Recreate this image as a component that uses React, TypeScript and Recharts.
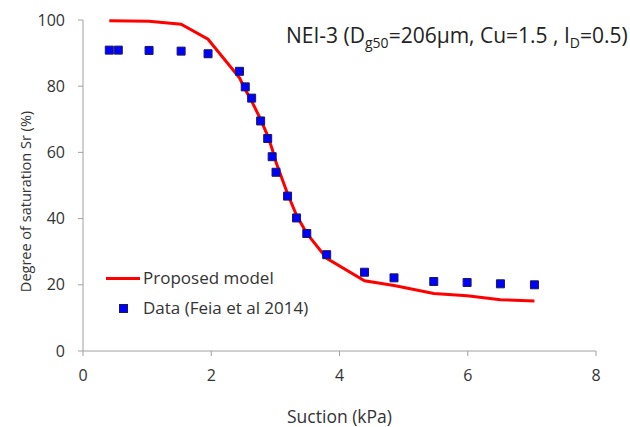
import React from "react";
import {
  ComposedChart,
  Line,
  Scatter,
  XAxis,
  YAxis,
} from "recharts";

// measured data (Feia et al 2014)
const dataSuction = [0.41, 0.55, 1.03, 1.53, 1.95, 2.44, 2.53, 2.63, 2.77, 2.88, 2.95, 3.01, 3.19, 3.33, 3.49, 3.8, 4.39, 4.85, 5.47, 5.99, 6.51, 7.04];
const dataSr = [90.9, 90.9, 90.8, 90.6, 89.8, 84.5, 79.8, 76.4, 69.5, 64.2, 58.7, 54.0, 46.8, 40.2, 35.5, 29.1, 23.8, 22.1, 21.0, 20.7, 20.3, 20.0];

// proposed model
const modelSuction = [0.41, 1.03, 1.53, 1.95, 2.44, 2.53, 2.63, 2.77, 2.88, 2.95, 3.01, 3.19, 3.33, 3.49, 3.8, 4.39, 4.85, 5.47, 5.99, 6.51, 7.04];
const modelSr = [99.8, 99.6, 98.7, 94.2, 82.5, 79.0, 75.5, 70.0, 65.0, 61.0, 57.0, 47.5, 41.0, 35.5, 28.0, 21.2, 19.8, 17.4, 16.7, 15.5, 15.1];

const xTicks = [0, 2, 4, 6, 8];
const yTicks = [0, 20, 40, 60, 80, 100];

const dataPoints = dataSuction.map((x, i) => ({ x, y: dataSr[i] }));
const modelPoints = modelSuction.map((x, i) => ({ x, y: modelSr[i] }));

const font = "'Open Sans', sans-serif";
const axisColor = "#A0A0A0";
const textColor = "#333333";

const YLabel = (props: any) => {
  const vb = props.viewBox || { x: 0, y: 0, width: 0, height: 0 };
  const cx = 31;
  const cy = vb.y + vb.height / 2 + 16;
  return (
    <text
      x={cx}
      y={cy}
      transform={`rotate(-90 ${cx} ${cy})`}
      textAnchor="middle"
      fill={textColor}
      fontSize={14.5}
      fontFamily={font}
    >
      Degree of saturation Sr (%)
    </text>
  );
};

const LegendBox = () => (
  <div
    style={{
      position: "absolute",
      left: 106,
      top: 263,
      fontFamily: font,
      fontSize: 17,
      color: textColor,
      lineHeight: "30px",
    }}
  >
    <div style={{ display: "flex", alignItems: "center" }}>
      <div style={{ width: 34, height: 3, background: "#FF0000", marginRight: 3 }} />
      <span>Proposed model</span>
    </div>
    <div style={{ display: "flex", alignItems: "center" }}>
      <div style={{ width: 34, display: "flex", justifyContent: "center", marginRight: 3 }}>
        <div style={{ width: 9, height: 9, background: "#0000FF", border: "1px solid #1A1A5A", boxSizing: "border-box" }} />
      </div>
      <span>Data (Feia et al 2014)</span>
    </div>
  </div>
);

const App = () => {
  return (
    <div style={{ position: "absolute", left: 0, top: 0, width: 630, height: 427, background: "#fff", overflow: "hidden" }}>
      <ComposedChart width={630} height={427} margin={{ top: 20, right: 34, left: 0, bottom: 0 }}>
        <XAxis
          type="number"
          dataKey="x"
          domain={[0, 8]}
          ticks={xTicks}
          height={76}
          stroke={axisColor}
          tickSize={5}
          tickMargin={14}
          tick={{ fill: textColor, fontSize: 16, fontFamily: font }}
          label={{ value: "Suction (kPa)", position: "insideBottom", offset: 4, fill: textColor, fontSize: 17.5, fontFamily: font }}
        />
        <YAxis
          type="number"
          dataKey="y"
          domain={[0, 100]}
          ticks={yTicks}
          width={83}
          stroke={axisColor}
          tickSize={5}
          tickMargin={13}
          tick={{ fill: textColor, fontSize: 16, fontFamily: font }}
          label={<YLabel />}
        />
        <Line
          data={modelPoints}
          dataKey="y"
          type="linear"
          stroke="#FF0000"
          strokeWidth={3}
          dot={false}
          isAnimationActive={false}
        />
        <Scatter
          data={dataPoints}
          dataKey="y"
          shape="square"
          fill="#0000FF"
          stroke="#1A1A5A"
          strokeWidth={1}
          size={120}
          isAnimationActive={false}
        />
      </ComposedChart>
      <LegendBox />
      <div
        style={{
          position: "absolute",
          left: 286,
          top: 21,
          whiteSpace: "nowrap",
          fontFamily: font,
          fontSize: 21,
          color: "#222",
        }}
      >
        NEI-3 (D<sub style={{ fontSize: 14 }}>g50</sub>=206μm, Cu=1.5 , I<sub style={{ fontSize: 14 }}>D</sub>=0.5)
      </div>
    </div>
  );
};

export default App;
